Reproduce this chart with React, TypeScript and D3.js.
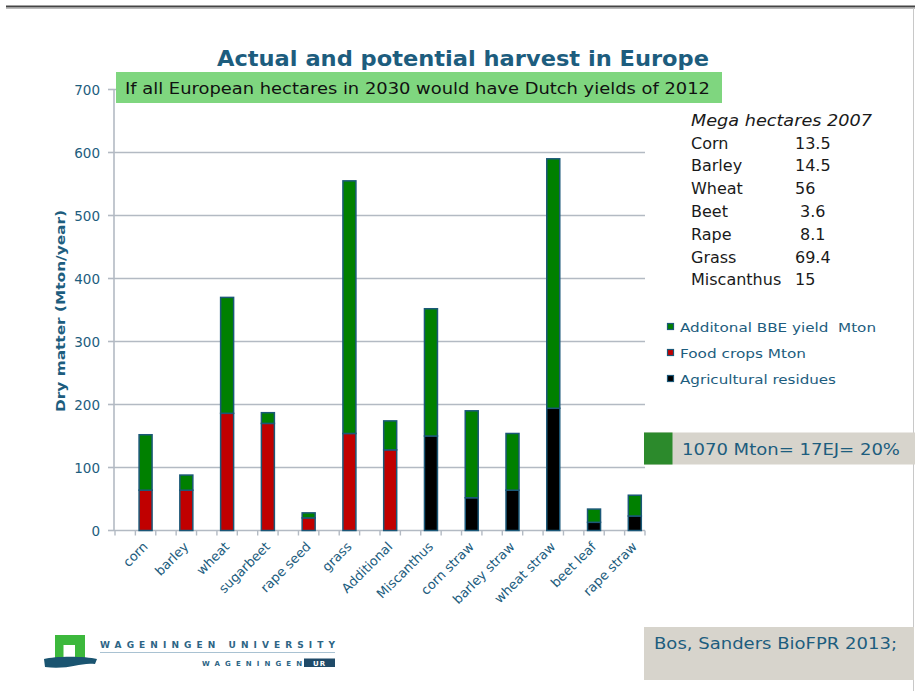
import React from 'react';
import * as d3 from 'd3';

const categories = ['corn', 'barley', 'wheat', 'sugarbeet', 'rape seed', 'grass', 'Additional', 'Miscanthus', 'corn straw', 'barley straw', 'wheat straw', 'beet leaf', 'rape straw'];
const residues = [0, 0, 0, 0, 0, 0, 0, 150, 52, 64, 194, 13, 23];
const foodCrops = [64, 64, 186, 170, 20, 154, 128, 0, 0, 0, 0, 0, 0];
const additional = [88, 24, 184, 17, 8, 401, 46, 202, 138, 90, 396, 21, 33];
const yTicks = [0, 100, 200, 300, 400, 500, 600, 700];

const seriesKeys = ['residues', 'food', 'additional'];
const seriesColors: Record<string, string> = { residues: '#000000', food: '#c00000', additional: '#008000' };
const legendItems = [
  { key: 'additional', label: 'Additonal BBE yield  Mton', w: 196 },
  { key: 'food', label: 'Food crops Mton', w: 126 },
  { key: 'residues', label: 'Agricultural residues', w: 156 },
];

const hectareNames = ['Corn', 'Barley', 'Wheat', 'Beet', 'Rape', 'Grass', 'Miscanthus'];
const hectareValues = ['13.5', '14.5', '56', ' 3.6', ' 8.1', '69.4', '15'];

const TEAL = '#1d5d7e';
const FONT = '"DejaVu Sans", Verdana, sans-serif';

export default function App() {
  const rows = categories.map((c, i) => ({ cat: c, residues: residues[i], food: foodCrops[i], additional: additional[i] }));
  const stack = d3.stack<any>().keys(seriesKeys)(rows);

  const x = d3.scaleBand<string>().domain(categories).range([115, 645]).paddingInner(0).paddingOuter(0);
  const y = d3.scaleLinear().domain([0, 700]).range([530.5, 89.5]);
  const step = x.step();
  const barW = 13;
  const cx = (c: string) => (x(c) as number) + step * 0.75;
  const halfTicks = d3.range(0, categories.length * 2 + 1).map((j) => 115 + (j * step) / 2);

  return (
    <svg width={915} height={691} style={{ display: 'block', fontFamily: FONT }}>
      <style>{`body{margin:0}`}</style>
      <rect x={0} y={0} width={915} height={691} fill="#ffffff" />
      {/* slide borders */}
      <line x1={6} x2={915} y1={6.5} y2={6.5} stroke="#444" strokeWidth={2} />
      <line x1={6} x2={915} y1={8.5} y2={8.5} stroke="#bbb" strokeWidth={1} />
      <line x1={913.5} x2={913.5} y1={8} y2={691} stroke="#c8c8c8" strokeWidth={1} />

      {/* title */}
      <text x={463} y={66} textAnchor="middle" fontWeight="bold" fontSize={20.5} fill={TEAL} textLength={492} lengthAdjust="spacingAndGlyphs">
        Actual and potential harvest in Europe
      </text>

      {/* gridlines */}
      {yTicks.map((t) => (
        <g key={t}>
          {t > 0 && <line x1={114} x2={645} y1={y(t)} y2={y(t)} stroke="#b3bac3" strokeWidth={1.6} />}
          <line x1={108} x2={114} y1={y(t)} y2={y(t)} stroke="#b3bac3" strokeWidth={1.6} />
          <text x={100} y={y(t) + 5} textAnchor="end" fontSize={13.5} fill={TEAL}>{t}</text>
        </g>
      ))}

      {/* axes */}
      <line x1={114} x2={114} y1={89} y2={531} stroke="#b3bac3" strokeWidth={1.6} />
      <line x1={114} x2={645} y1={y(0)} y2={y(0)} stroke="#b3bac3" strokeWidth={1.6} />
      {halfTicks.map((tx, j) => (
        <line key={j} x1={tx} x2={tx} y1={y(0)} y2={y(0) + 5} stroke="#b3bac3" strokeWidth={1.4} />
      ))}

      {/* bars */}
      {stack.map((s) => (
        <g key={s.key}>
          {s.map((d: any, i: number) => {
            const h = y(d[0]) - y(d[1]);
            if (h <= 0) return null;
            return (
              <rect key={i} x={cx(categories[i]) - barW / 2} y={y(d[1])} width={barW} height={h}
                fill={seriesColors[s.key]} stroke="#1b5878" strokeWidth={1.5} />
            );
          })}
        </g>
      ))}

      {/* x labels */}
      {categories.map((c) => (
        <text key={c} transform={`translate(${cx(c) + 3},${y(0) + 17}) rotate(-45)`} textAnchor="end" fontSize={13} fill={TEAL}>
          {c}
        </text>
      ))}

      {/* y title */}
      <text transform={`translate(65,311) rotate(-90)`} textAnchor="middle" fontWeight="bold" fontSize={13} fill={TEAL} textLength={202} lengthAdjust="spacingAndGlyphs">
        Dry matter (Mton/year)
      </text>

      {/* green banner */}
      <rect x={116} y={72} width={606} height={31} fill="#7fd67f" />
      <text x={125} y={94} fontSize={16.5} fill="#111" textLength={585} lengthAdjust="spacingAndGlyphs">
        If all European hectares in 2030 would have Dutch yields of 2012
      </text>

      {/* hectares block */}
      <text x={691} y={126} fontSize={16} fontStyle="italic" fill="#1a1a1a" textLength={181} lengthAdjust="spacingAndGlyphs">
        Mega hectares 2007
      </text>
      {hectareNames.map((n, i) => (
        <g key={n}>
          <text x={691} y={148.5 + i * 22.8} fontSize={16} fill="#1a1a1a">{n}</text>
          <text x={795} y={148.5 + i * 22.8} fontSize={16} fill="#1a1a1a" style={{ whiteSpace: 'pre' }}>{hectareValues[i]}</text>
        </g>
      ))}

      {/* legend */}
      {legendItems.map((l, i) => (
        <g key={l.key}>
          <rect x={667.5} y={323.5 + i * 26} width={6} height={6} fill={seriesColors[l.key]} stroke="#1b5878" strokeWidth={1.2} />
          <text x={680} y={331.5 + i * 26} fontSize={13} fill={TEAL} style={{ whiteSpace: 'pre' }} textLength={l.w} lengthAdjust="spacingAndGlyphs">{l.label}</text>
        </g>
      ))}

      {/* 1070 box */}
      <rect x={644} y={432.5} width={271} height={32} fill="#d7d4cc" />
      <rect x={644} y={432.5} width={28.5} height={32} fill="#2c8a2c" />
      <text x={682} y={454.5} fontSize={16.5} fill={TEAL} textLength={218} lengthAdjust="spacingAndGlyphs">1070 Mton= 17EJ= 20%</text>

      {/* reference box */}
      <rect x={644} y={627} width={270} height={53} fill="#d7d4cc" />
      <text x={654} y={648.5} fontSize={16.5} fill={TEAL} textLength={243} lengthAdjust="spacingAndGlyphs">Bos, Sanders BioFPR 2013;</text>

      {/* logo */}
      <g>
        <path d="M55,635 H85 V660 H75 V645 H63.5 V660 H55 Z" fill="#3cb83c" />
        <path d="M44,659 C55,656 85,656 97,659 L95,664 C80,662 70,670 45,667 Z" fill="#1a5470" />
        <text x={100} y={648} fontSize={9} fontWeight="bold" fill="#2d6585" textLength={235} lengthAdjust="spacing">WAGENINGEN UNIVERSITY</text>
        <line x1={100} x2={335} y1={652.5} y2={652.5} stroke="#a9c2d2" strokeWidth={1} />
        <text x={202} y={666} fontSize={7} fontWeight="bold" fill="#2d6585" textLength={100} lengthAdjust="spacing">WAGENINGEN</text>
        <rect x={304} y={658.5} width={31} height={8.5} fill="#1f4a68" />
        <text x={319.5} y={665.5} fontSize={7} fontWeight="bold" fill="#ffffff" textAnchor="middle" letterSpacing={1}>UR</text>
      </g>
    </svg>
  );
}
